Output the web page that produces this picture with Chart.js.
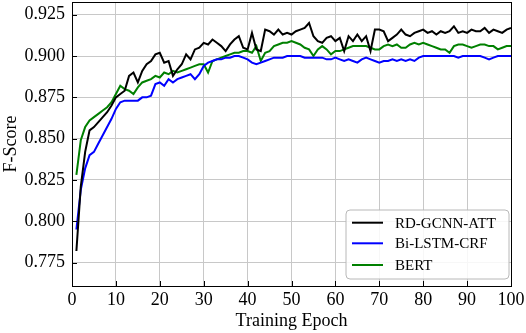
<!DOCTYPE html>
<html>
<head>
<meta charset="utf-8">
<script src="https://cdn.jsdelivr.net/npm/chart.js@4/dist/chart.umd.min.js"></script>
<style>
html,body{margin:0;padding:0;background:#fff;}
canvas{display:block;}
</style>
</head>
<body>
<canvas id="c" width="526" height="333"></canvas>
<script>
const epochs = [1,2,3,4,5,6,7,8,9,10,11,12,13,14,15,16,17,18,19,20,21,22,23,24,25,26,27,28,29,30,31,32,33,34,35,36,37,38,39,40,41,42,43,44,45,46,47,48,49,50,51,52,53,54,55,56,57,58,59,60,61,62,63,64,65,66,67,68,69,70,71,72,73,74,75,76,77,78,79,80,81,82,83,84,85,86,87,88,89,90,91,92,93,94,95,96,97,98,99,100];

const rdGcnnAtt = [0.782,0.821,0.842,0.855,0.857,0.860,0.863,0.866,0.870,0.875,
0.877,0.879,0.888,0.890,0.884,0.891,0.895,0.897,0.901,0.902,
0.896,0.897,0.888,0.892,0.895,0.901,0.898,0.904,0.905,0.908,
0.907,0.910,0.908,0.906,0.903,0.907,0.910,0.912,0.905,0.904,
0.914,0.904,0.903,0.916,0.915,0.913,0.916,0.913,0.914,0.913,
0.915,0.916,0.917,0.920,0.912,0.909,0.908,0.911,0.912,0.909,
0.911,0.903,0.912,0.909,0.913,0.909,0.912,0.903,0.916,0.916,
0.915,0.909,0.911,0.913,0.916,0.913,0.912,0.914,0.915,0.916,
0.914,0.915,0.913,0.915,0.914,0.915,0.918,0.914,0.915,0.914,
0.916,0.915,0.915,0.917,0.914,0.916,0.915,0.914,0.916,0.917];

const biLstmCrf = [0.795,0.819,0.832,0.840,0.842,0.847,0.852,0.857,0.862,0.868,
0.872,0.873,0.873,0.873,0.873,0.875,0.875,0.876,0.883,0.884,
0.882,0.886,0.884,0.886,0.887,0.888,0.889,0.886,0.889,0.894,
0.896,0.897,0.898,0.898,0.899,0.899,0.900,0.900,0.899,0.898,
0.896,0.895,0.896,0.897,0.898,0.899,0.899,0.899,0.900,0.900,
0.900,0.900,0.899,0.899,0.899,0.899,0.899,0.898,0.898,0.899,
0.898,0.897,0.898,0.897,0.896,0.898,0.899,0.898,0.897,0.896,
0.897,0.897,0.898,0.897,0.898,0.897,0.898,0.897,0.899,0.900,
0.900,0.900,0.900,0.900,0.900,0.900,0.900,0.899,0.900,0.900,
0.900,0.900,0.900,0.899,0.898,0.899,0.900,0.900,0.900,0.900];

const bert = [0.828,0.849,0.857,0.861,0.863,0.865,0.867,0.869,0.872,0.877,
0.882,0.880,0.879,0.877,0.881,0.884,0.885,0.886,0.888,0.887,
0.890,0.889,0.891,0.890,0.891,0.892,0.893,0.894,0.895,0.895,
0.890,0.897,0.898,0.899,0.900,0.901,0.902,0.902,0.903,0.903,
0.902,0.906,0.897,0.902,0.903,0.906,0.907,0.908,0.908,0.909,
0.908,0.907,0.905,0.904,0.900,0.904,0.906,0.904,0.901,0.903,
0.903,0.904,0.905,0.906,0.906,0.906,0.906,0.905,0.904,0.904,
0.906,0.907,0.906,0.907,0.905,0.905,0.907,0.908,0.907,0.908,
0.907,0.906,0.905,0.904,0.904,0.902,0.906,0.907,0.907,0.906,
0.905,0.906,0.907,0.907,0.906,0.906,0.904,0.905,0.906,0.906];

const seriesNames = ['RD-GCNN-ATT','Bi-LSTM-CRF','BERT'];
const seriesColors = ['#000000','#0000ff','#008000'];
const xTicks = [0,10,20,30,40,50,60,70,80,90,100];
const yTicks = [0.775,0.800,0.825,0.850,0.875,0.900,0.925];
const yTickLabels = ['0.775','0.800','0.825','0.850','0.875','0.900','0.925'];

const FONT = 'Liberation Serif, Times New Roman, serif';
const seriesValues = [rdGcnnAtt, biLstmCrf, bert];

const framePlugin = {
  id: 'frame',
  afterDatasetsDraw(chart) {
    const {ctx, chartArea: a, scales} = chart;
    ctx.save();
    ctx.strokeStyle = '#000';
    ctx.lineWidth = 1;
    ctx.beginPath();
    xTicks.forEach(v => {
      const px = Math.round(scales.x.getPixelForValue(v)) + 0.5;
      ctx.moveTo(px, a.bottom); ctx.lineTo(px, a.bottom - 5);
    });
    yTicks.forEach(v => {
      const py = Math.round(scales.y.getPixelForValue(v)) + 0.5;
      ctx.moveTo(a.left, py); ctx.lineTo(a.left + 5, py);
    });
    ctx.stroke();
    ctx.strokeRect(Math.round(a.left) + 0.5, Math.round(a.top) + 0.5, Math.round(a.right - a.left), Math.round(a.bottom - a.top));
    ctx.restore();
  },
  afterDraw(chart) {
    const {ctx, chartArea: a} = chart;
    const bx = a.right - 165, by = a.bottom - 76, bw = 163, bh = 69, r = 4;
    ctx.save();
    ctx.beginPath();
    ctx.moveTo(bx + r, by);
    ctx.arcTo(bx + bw, by, bx + bw, by + bh, r);
    ctx.arcTo(bx + bw, by + bh, bx, by + bh, r);
    ctx.arcTo(bx, by + bh, bx, by, r);
    ctx.arcTo(bx, by, bx + bw, by, r);
    ctx.closePath();
    ctx.fillStyle = 'rgba(255,255,255,0.85)';
    ctx.fill();
    ctx.strokeStyle = '#b8b8b8';
    ctx.lineWidth = 1;
    ctx.stroke();
    const rows = [12.7, 33.3, 55];
    chart.data.datasets.forEach((ds, i) => {
      const y = by + rows[i];
      ctx.strokeStyle = ds.borderColor;
      ctx.lineWidth = 2;
      ctx.beginPath();
      ctx.moveTo(bx + 6, y); ctx.lineTo(bx + 37, y);
      ctx.stroke();
      ctx.fillStyle = '#000';
      ctx.font = '15px ' + FONT;
      ctx.textBaseline = 'middle';
      ctx.textAlign = 'left';
      ctx.fillText(ds.label, bx + 49, y + 1);
    });
    ctx.restore();
  }
};

new Chart(document.getElementById('c'), {
  type: 'line',
  data: {
    datasets: seriesNames.map((name, k) => ({
      label: name,
      data: epochs.map((e, i) => ({x: e, y: seriesValues[k][i]})),
      borderColor: seriesColors[k],
      backgroundColor: seriesColors[k],
      borderWidth: 2,
      pointRadius: 0,
      tension: 0,
      fill: false
    }))
  },
  options: {
    responsive: false,
    animation: false,
    devicePixelRatio: 1,
    layout: {padding: {top: 2, right: 15, left: 0, bottom: 0}},
    plugins: {legend: {display: false}, tooltip: {enabled: false}},
    scales: {
      x: {
        type: 'linear', min: 0, max: 100,
        afterBuildTicks(s) { s.ticks = xTicks.map(v => ({value: v})); },
        afterFit(s) { s.height = 47; s.paddingLeft = 0; s.paddingRight = 0; },
        ticks: {color: '#000', font: {family: FONT, size: 18}, padding: 3, maxRotation: 0, autoSkip: false,
                callback: (v) => String(v)},
        grid: {color: '#c8c8c8', lineWidth: 1, drawTicks: false},
        border: {display: true, color: '#000'},
        title: {display: true, text: 'Training Epoch', color: '#000', font: {family: FONT, size: 18}, padding: {top: 0, bottom: 1}}
      },
      y: {
        type: 'linear', min: 0.7608, max: 0.9327,
        afterBuildTicks(s) { s.ticks = yTicks.map(v => ({value: v})); },
        afterFit(s) { s.width = 72; s.paddingTop = 0; s.paddingBottom = 0; },
        ticks: {color: '#000', font: {family: FONT, size: 18}, padding: 7, autoSkip: false,
                callback: (v, i) => yTickLabels[i]},
        grid: {color: '#c8c8c8', lineWidth: 1, drawTicks: false},
        border: {display: true, color: '#000'},
        title: {display: true, text: 'F-Score', color: '#000', font: {family: FONT, size: 18}, padding: {top: 0, bottom: 0}}
      }
    }
  },
  plugins: [framePlugin]
});
</script>
</body>
</html>
